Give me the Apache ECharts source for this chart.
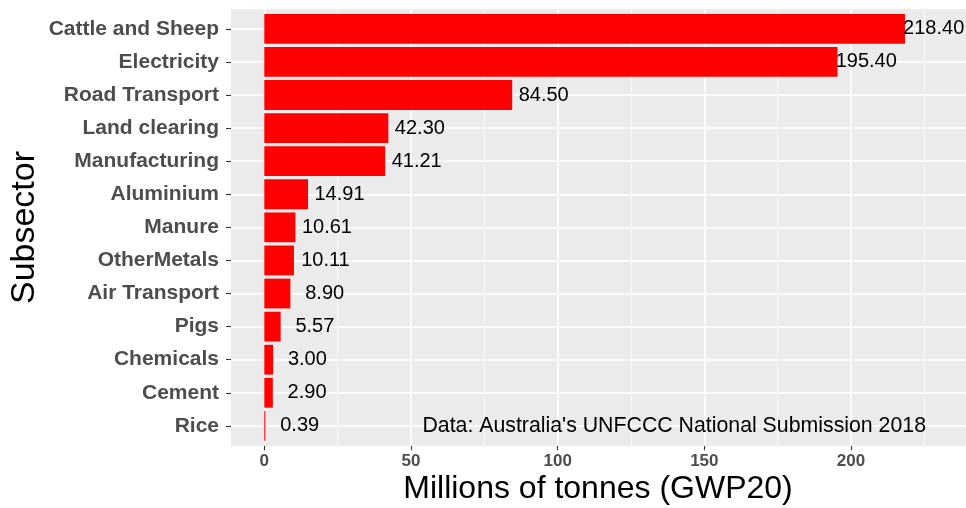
<!DOCTYPE html>
<html>
<head>
<meta charset="utf-8">
<script src="https://cdn.jsdelivr.net/npm/echarts@6/dist/echarts.min.js"></script>
<style>
  html, body { margin: 0; padding: 0; background: #fff; }
  #chart { width: 966px; height: 508px; }
</style>
</head>
<body>
<div id="chart"></div>
<script>
// subsectors, top to bottom
var subsectors = ['Cattle and Sheep', 'Electricity', 'Road Transport', 'Land clearing', 'Manufacturing',
  'Aluminium', 'Manure', 'OtherMetals', 'Air Transport', 'Pigs', 'Chemicals', 'Cement', 'Rice'];
var emissions = [218.40, 195.40, 84.50, 42.30, 41.21, 14.91, 10.61, 10.11, 8.90, 5.57, 3.00, 2.90, 0.39];
var majorTicks = [0, 50, 100, 150, 200];
var minorTicks = [25, 75, 125, 175, 225];
var xMin = -11.35, xMax = 239.2;

var FONT = '"Liberation Sans", Arial, Helvetica, sans-serif';

var chart = echarts.init(document.getElementById('chart'));

// labels sit a little right of the bar end (ggplot nudge + hjust)
var barData = emissions.map(function (v) {
  var txt = v.toFixed(2);
  var w = 20 * (0.556 * (txt.length - 1) + 0.278);
  return { value: v, label: { distance: 44 - 0.25 * w } };
});

function gridAxisX(vals, width) {
  return {
    type: 'value', min: xMin, max: xMax, position: 'bottom', offset: 3.3,
    axisLine: { show: false },
    axisLabel: { show: false },
    splitLine: { show: false },
    axisTick: { show: true, inside: true, length: 437, customValues: vals,
      lineStyle: { color: '#ffffff', width: width } }
  };
}

var option = {
  animation: false,
  grid: { left: 231, right: 0, top: 12.3, bottom: 65.6, containLabel: false },
  graphic: [
    { type: 'rect', z: -10, shape: { x: 231, y: 9, width: 735, height: 437 },
      style: { fill: '#EBEBEB' }, silent: true },
    { type: 'text', x: 926, y: 426, z: 10,
      style: { text: "Data: Australia's UNFCCC National Submission 2018", fill: '#000',
        font: '21.3px ' + FONT, align: 'right', verticalAlign: 'middle' } },
    { type: 'text', x: 598, y: 489,
      style: { text: 'Millions of tonnes (GWP20)', fill: '#000',
        font: '32px ' + FONT, align: 'center', verticalAlign: 'middle' } },
    { type: 'text', x: 25, y: 227.5, rotation: Math.PI / 2,
      style: { text: 'Subsector', fill: '#000',
        font: '34px ' + FONT, align: 'center', verticalAlign: 'middle' } }
  ],
  xAxis: [
    {
      type: 'value', min: xMin, max: xMax, position: 'bottom', offset: 3.3,
      axisLine: { show: false },
      splitLine: { show: false },
      axisTick: { show: true, length: 4.5, customValues: majorTicks,
        lineStyle: { color: '#333333', width: 1.1 } },
      axisLabel: { customValues: majorTicks, margin: 7, color: '#4D4D4D',
        fontFamily: FONT, fontWeight: 'bold', fontSize: 17 }
    },
    gridAxisX(majorTicks, 1.6),
    gridAxisX(minorTicks, 0.8)
  ],
  yAxis: [
    {
      type: 'category', data: subsectors, inverse: true, position: 'left',
      axisLine: { show: false, onZero: false },
      splitLine: { show: false },
      axisTick: { show: true, alignWithLabel: true, interval: 0, length: 5,
        lineStyle: { color: '#333333', width: 1.1 } },
      axisLabel: { interval: 0, margin: 12, color: '#4D4D4D',
        fontFamily: FONT, fontWeight: 'bold', fontSize: 21 }
    },
    {
      type: 'category', data: subsectors, inverse: true, position: 'left',
      axisLine: { show: false, onZero: false },
      splitLine: { show: false },
      axisLabel: { show: false },
      axisTick: { show: true, alignWithLabel: true, interval: 0, inside: true, length: 735,
        lineStyle: { color: '#ffffff', width: 1.6 } }
    }
  ],
  series: [
    {
      name: 'Emissions',
      type: 'bar',
      xAxisIndex: 0,
      yAxisIndex: 0,
      data: barData,
      barWidth: 29.8,
      itemStyle: { color: '#FF0000' },
      label: {
        show: true,
        position: 'right',
        align: 'center',
        verticalAlign: 'middle',
        color: '#000',
        fontFamily: FONT,
        fontSize: 20,
        formatter: function (p) { return p.value.toFixed(2); }
      }
    }
  ]
};

chart.setOption(option);
</script>
</body>
</html>
